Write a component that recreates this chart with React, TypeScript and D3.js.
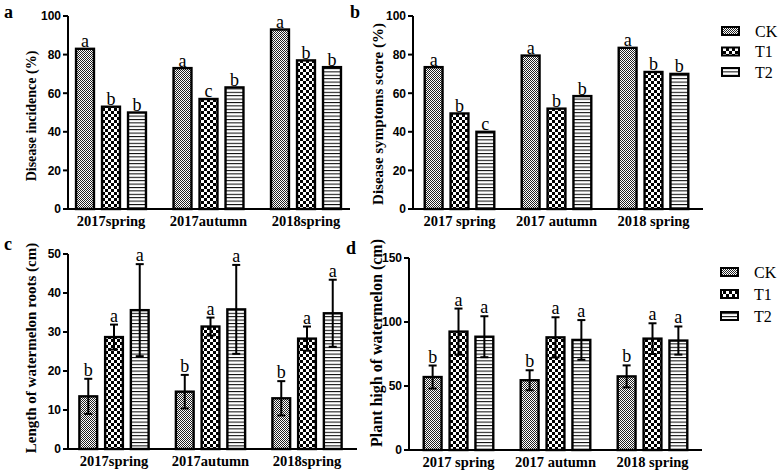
import React from "react";
import * as d3 from "d3";

// ---- data ----
const groups = ["CK", "T1", "T2"];
const seasonsAC = ["2017spring", "2017autumn", "2018spring"];
const seasonsBD = ["2017 spring", "2017 autumn", "2018 spring"];

// a: disease incidence (%)
const incidenceCK = [83, 73, 93];
const incidenceT1 = [53, 57, 77];
const incidenceT2 = [50, 63, 73.5];
const incidenceLetters = [["a", "b", "b"], ["a", "c", "b"], ["a", "b", "b"]];

// b: disease symptoms score (%)
const symptomsCK = [73.5, 79.5, 83.5];
const symptomsT1 = [49.5, 52, 71];
const symptomsT2 = [40, 58.5, 70];
const symptomsLetters = [["a", "b", "c"], ["a", "b", "b"], ["a", "b", "b"]];

// c: length of watermelon roots (cm)
const rootsCK = [13.5, 14.7, 13];
const rootsT1 = [28.7, 31.4, 28.3];
const rootsT2 = [35.6, 35.8, 34.8];
const rootsErrCK = [4.5, 4.3, 4.4];
const rootsErrT1 = [3.2, 2.3, 3.1];
const rootsErrT2 = [11.8, 11.4, 8.6];
const rootsLetters = [["b", "a", "a"], ["b", "a", "a"], ["b", "a", "a"]];

// d: plant high of watermelon (cm)
const heightCK = [57, 54.5, 57.5];
const heightT1 = [92.5, 88, 87];
const heightT2 = [88.5, 86, 85.5];
const heightErrCK = [9, 7.8, 8.6];
const heightErrT1 = [18, 15.7, 12];
const heightErrT2 = [16, 15.5, 11];
const heightLetters = [["b", "a", "a"], ["b", "a", "a"], ["b", "a", "a"]];

const ticksAB = [0, 20, 40, 60, 80, 100];
const ticksC = [0, 10, 20, 30, 40, 50];
const ticksD = [0, 50, 100, 150];

const SERIF = "'Liberation Serif', 'Times New Roman', serif";
const SANS = "'Liberation Sans', Arial, sans-serif";
const patternIds = ["patCK", "patT1", "patT2"];

type PanelProps = {
  label: string;
  labelX: number;
  labelY: number;
  categories: string[];
  series: number[][];
  errors?: number[][];
  letters: string[][];
  domainMax: number;
  ticks: number[];
  yTop: number;
  yBottom: number;
  bandStart: number;
  bandEnd: number;
  axisStart: number;
  axisEnd: number;
  yTitle: string;
  yTitleX: number;
  yTitleY: number;
  yTitleFont: number;
  catFont: number;
};

function Panel(p: PanelProps) {
  const x0 = d3.scaleBand<string>().domain(p.categories).range([p.bandStart, p.bandEnd]).padding(0);
  const x1 = d3
    .scaleBand<string>()
    .domain(groups)
    .range([0, x0.bandwidth()])
    .paddingInner(0.31)
    .paddingOuter(0.53);
  const y = d3.scaleLinear().domain([0, p.domainMax]).range([p.yBottom, p.yTop]);
  const bw = x1.bandwidth();

  return (
    <g>
      <text x={p.labelX} y={p.labelY} fontFamily={SERIF} fontWeight="bold" fontSize={18}>
        {p.label}
      </text>
      {/* bars */}
      {p.categories.map((cat, ci) =>
        groups.map((g, gi) => {
          const v = p.series[gi][ci];
          const bx = (x0(cat) as number) + (x1(g) as number);
          const top = y(v);
          const err = p.errors ? p.errors[gi][ci] : 0;
          const cx = bx + bw / 2;
          const letterY = p.errors ? y(v + err) - 3 : top - 1.5;
          return (
            <g key={cat + g}>
              <rect
                x={bx}
                y={top}
                width={bw}
                height={p.yBottom - top}
                fill={`url(#${patternIds[gi]})`}
                stroke="#000"
                strokeWidth={2.4}
              />
              {p.errors && (
                <g stroke="#000" strokeWidth={2}>
                  <line x1={cx} x2={cx} y1={y(v - err)} y2={y(v + err)} />
                  <line x1={cx - 4} x2={cx + 4} y1={y(v + err)} y2={y(v + err)} />
                  <line x1={cx - 4} x2={cx + 4} y1={y(v - err)} y2={y(v - err)} />
                </g>
              )}
              <text
                x={cx}
                y={letterY}
                textAnchor="middle"
                fontFamily={SERIF}
                fontSize={18}
              >
                {p.letters[ci][gi]}
              </text>
            </g>
          );
        })
      )}
      {/* axes */}
      <line x1={p.axisStart} x2={p.axisEnd} y1={p.yBottom} y2={p.yBottom} stroke="#000" strokeWidth={2} />
      <line x1={p.axisStart} x2={p.axisStart} y1={p.yTop} y2={p.yBottom + 1} stroke="#000" strokeWidth={2} />
      {p.ticks.map((t) => (
        <g key={t}>
          <line x1={p.axisStart - 5} x2={p.axisStart} y1={y(t)} y2={y(t)} stroke="#000" strokeWidth={2} />
          <text
            x={p.axisStart - 7}
            y={y(t)}
            dy="0.36em"
            textAnchor="end"
            fontFamily={SANS}
            fontWeight="bold"
            fontSize={12}
          >
            {t}
          </text>
        </g>
      ))}
      {p.categories.map((cat) => (
        <text
          key={cat}
          x={(x0(cat) as number) + x0.bandwidth() / 2}
          y={p.yBottom + 17}
          textAnchor="middle"
          fontFamily={SERIF}
          fontWeight="bold"
          fontSize={p.catFont}
        >
          {cat}
        </text>
      ))}
      <text
        transform={`translate(${p.yTitleX},${p.yTitleY}) rotate(-90)`}
        textAnchor="middle"
        fontFamily={SERIF}
        fontWeight="bold"
        fontSize={p.yTitleFont}
      >
        {p.yTitle}
      </text>
    </g>
  );
}

function Legend({ x, y0, step }: { x: number; y0: number; step: number }) {
  return (
    <g>
      {groups.map((g, i) => (
        <g key={g}>
          <rect
            x={x}
            y={y0 + i * step - 4}
            width={17}
            height={8}
            fill={`url(#${patternIds[i]})`}
            stroke="#000"
            strokeWidth={2}
          />
          <text x={x + 33} y={y0 + i * step} dy="0.35em" fontFamily={SERIF} fontSize={16}>
            {g}
          </text>
        </g>
      ))}
    </g>
  );
}

export default function App() {
  return (
    <svg
      width={778}
      height={474}
      style={{ position: "absolute", left: 0, top: 0, background: "#fff" }}
    >
      <defs>
        <pattern id="patCK" patternUnits="userSpaceOnUse" width={2} height={2}>
          <rect width={2} height={2} fill="#fff" />
          <rect x={0} y={0} width={1} height={1} fill="#222" />
          <rect x={1} y={1} width={1} height={1} fill="#222" />
        </pattern>
        <pattern id="patT1" patternUnits="userSpaceOnUse" width={6} height={6}>
          <rect width={6} height={6} fill="#fff" />
          <rect x={0} y={0} width={3} height={3} fill="#000" />
          <rect x={3} y={3} width={3} height={3} fill="#000" />
        </pattern>
        <pattern id="patT2" patternUnits="userSpaceOnUse" width={4} height={3.4}>
          <rect width={4} height={3.4} fill="#fff" />
          <rect x={0} y={0} width={4} height={1} fill="#000" />
        </pattern>
      </defs>
      <rect width={778} height={474} fill="#fff" />
      <Panel
        label="a"
        labelX={4}
        labelY={18}
        categories={seasonsAC}
        series={[incidenceCK, incidenceT1, incidenceT2]}
        letters={incidenceLetters}
        domainMax={100}
        ticks={ticksAB}
        yTop={16}
        yBottom={209}
        bandStart={62.25}
        bandEnd={354.75}
        axisStart={68}
        axisEnd={350}
        yTitle="Disease incidence (%)"
        yTitleX={36}
        yTitleY={116}
        yTitleFont={14}
        catFont={14.5}
      />
      <Panel
        label="b"
        labelX={350}
        labelY={18}
        categories={seasonsBD}
        series={[symptomsCK, symptomsT1, symptomsT2]}
        letters={symptomsLetters}
        domainMax={100}
        ticks={ticksAB}
        yTop={16}
        yBottom={209}
        bandStart={411}
        bandEnd={702}
        axisStart={413}
        axisEnd={703}
        yTitle="Disease symptoms score (%)"
        yTitleX={383}
        yTitleY={114}
        yTitleFont={15}
        catFont={14.5}
      />
      <Legend x={722} y0={31} step={20.5} />
      <Panel
        label="c"
        labelX={4}
        labelY={250}
        categories={seasonsAC}
        series={[rootsCK, rootsT1, rootsT2]}
        errors={[rootsErrCK, rootsErrT1, rootsErrT2]}
        letters={rootsLetters}
        domainMax={50}
        ticks={ticksC}
        yTop={254}
        yBottom={449}
        bandStart={65.75}
        bandEnd={355.25}
        axisStart={68}
        axisEnd={357}
        yTitle="Length of watermelon roots (cm)"
        yTitleX={36}
        yTitleY={348}
        yTitleFont={15}
        catFont={14.5}
      />
      <Panel
        label="d"
        labelX={346}
        labelY={254}
        categories={seasonsBD}
        series={[heightCK, heightT1, heightT2]}
        errors={[heightErrCK, heightErrT1, heightErrT2]}
        letters={heightLetters}
        domainMax={150}
        ticks={ticksD}
        yTop={258}
        yBottom={450}
        bandStart={410}
        bandEnd={701}
        axisStart={409}
        axisEnd={702}
        yTitle="Plant high of watermelon (cm)"
        yTitleX={382}
        yTitleY={343}
        yTitleFont={16}
        catFont={14.5}
      />
      <Legend x={721} y0={272} step={22} />
    </svg>
  );
}
